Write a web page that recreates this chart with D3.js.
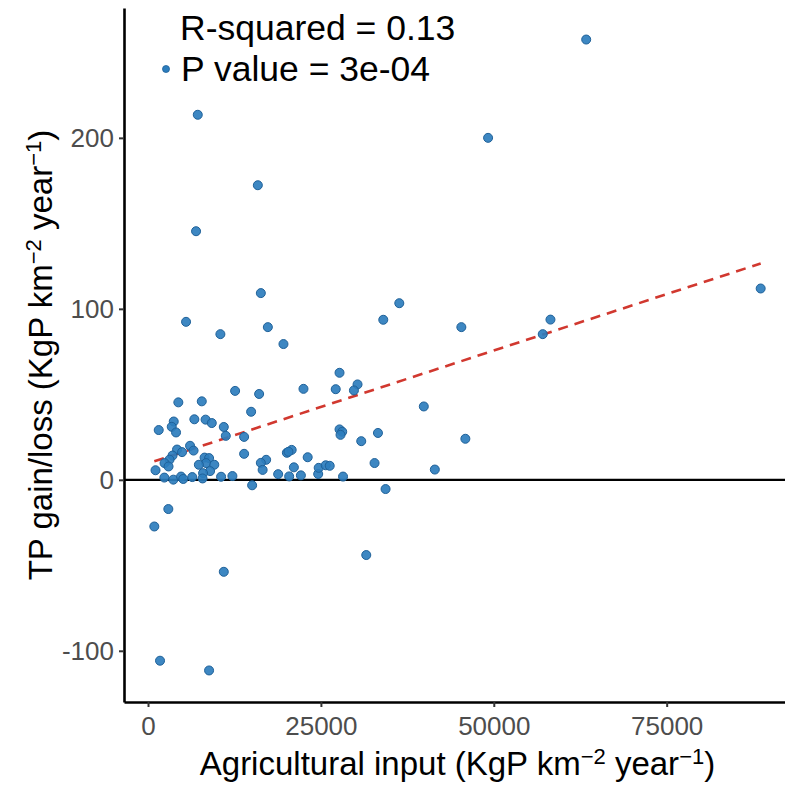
<!DOCTYPE html>
<html>
<head>
<meta charset="utf-8">
<script src="https://cdn.jsdelivr.net/npm/d3@7"></script>
<style>
  body { margin: 0; background: #fff; }
  text { font-family: "Liberation Sans", Arial, sans-serif; }
</style>
</head>
<body>
<div id="chart"></div>
<script>
// agricultural P input (KgP km-2 year-1) and TP gain/loss, one entry per site
const agriInput = [
  7195, 15880, 6948, 16315, 5501, 10466, 17328, 19586, 34019, 36335,
  45310, 63362, 49175, 88593, 58194, 57079, 27693, 27143, 30298, 29777,
  22481, 39881, 16068, 14910, 12594, 4386, 7774, 1549, 3720, 3431,
  4053, 6702, 8324, 9221, 10958, 11248, 13897, 27693, 28083, 27837,
  30834, 33251, 45889, 13897, 20078, 20773, 20310, 23089, 17082, 16315,
  16575, 18819, 20411, 22105, 21092, 24609, 24682, 25695, 26274, 32759,
  41474, 28199, 34352, 15055, 12203, 10567, 6080, 6587, 4198, 4922,
  3547, 3112, 2389, 2968, 1086, 8179, 8830, 8396, 9583, 7354,
  8975, 7962, 2360, 3662, 4777, 5096, 6398, 7889, 1737, 8830,
  2939, 912, 10958, 31558
];
const tpChange = [
  213.5, 172.3, 145.4, 109.2, 92.4, 85.2, 89.3, 79.4, 93.6, 103.3,
  89.3, 257.5, 200, 111.9, 93.7, 85.2, 62.6, 53.0, 55.8, 52.3,
  53.2, 42.9, 50.2, 39.8, 52.0, 45.3, 45.9, 29.1, 34.1, 31.0,
  27.7, 35.4, 35.2, 33.2, 30.9, 25.7, 25.1, 29.5, 28.1, 26.3,
  22.6, 27.4, 24.0, 15.2, 15.8, 17.5, 16.4, 13.2, 11.7, 9.9,
  5.8, 3.3, 2.0, 2.6, 7.3, 3.4, 7.0, 8.5, 8.2, 9.8,
  6.0, 1.9, -5.4, -3.2, 2.2, 1.8, 19.9, 17.1, 17.7, 16.2,
  14.2, 11.8, 9.8, 7.8, 5.6, 13.0, 12.7, 9.8, 8.8, 8.8,
  5.1, 3.9, 1.3, 0.1, 1.9, 0.5, 1.6, 0.8, -105.8, -111.5,
  -17.1, -27.3, -53.8, -44.0
];
const xTicks = [0, 25000, 50000, 75000];
const yTicks = [-100, 0, 100, 200];
// linear fit
const fitIntercept = 9.6;
const fitSlope = 0.00132;
const statsLabels = ["R-squared = 0.13", "P value = 3e-04"];

const width = 785;
const height = 788;
const panel = { left: 124, right: 791, top: 8, bottom: 702 };

const points = agriInput.map((x, i) => ({ x: x, y: tpChange[i] }));

// ggplot style 5% expansion
function expand(ext) {
  const pad = (ext[1] - ext[0]) * 0.05;
  return [ext[0] - pad, ext[1] + pad];
}

const x = d3.scaleLinear()
  .domain(expand(d3.extent(agriInput)))
  .range([panel.left, panel.right]);
const y = d3.scaleLinear()
  .domain(expand(d3.extent(tpChange)))
  .range([panel.bottom, panel.top]);

const svg = d3.select("#chart")
  .append("svg")
  .attr("width", width)
  .attr("height", height);

// zero reference line
svg.append("line")
  .attr("x1", panel.left)
  .attr("x2", panel.right)
  .attr("y1", y(0))
  .attr("y2", y(0))
  .attr("stroke", "#000")
  .attr("stroke-width", 2.2);

// fitted line
const xr = d3.extent(agriInput);
svg.append("line")
  .attr("x1", x(xr[0]))
  .attr("y1", y(fitIntercept + fitSlope * xr[0]))
  .attr("x2", x(xr[1]))
  .attr("y2", y(fitIntercept + fitSlope * xr[1]))
  .attr("stroke", "#d1382f")
  .attr("stroke-width", 2.6)
  .attr("stroke-dasharray", "10,7");

// points
svg.append("g")
  .selectAll("circle")
  .data(points)
  .join("circle")
  .attr("cx", d => x(d.x))
  .attr("cy", d => y(d.y))
  .attr("r", 4.5)
  .attr("fill", "#2c7dbd")
  .attr("fill-opacity", 0.92)
  .attr("stroke", "#1f6199")
  .attr("stroke-width", 1);

// axes
const xAxis = svg.append("g")
  .attr("transform", `translate(0,${panel.bottom})`)
  .call(d3.axisBottom(x).tickValues(xTicks).tickSize(5).tickSizeOuter(0).tickFormat(d => String(d)));
const yAxis = svg.append("g")
  .attr("transform", `translate(${panel.left},0)`)
  .call(d3.axisLeft(y).tickValues(yTicks).tickSize(5).tickSizeOuter(0).tickFormat(d => String(d)));

[xAxis, yAxis].forEach(a => {
  a.select(".domain").attr("stroke", "#000").attr("stroke-width", 2.6);
  a.selectAll(".tick line").attr("stroke", "#333").attr("stroke-width", 2);
  a.selectAll(".tick text")
    .attr("fill", "#4d4d4d")
    .style("font-size", "26px")
    .style("font-family", "'Liberation Sans', Arial, sans-serif");
});
xAxis.selectAll(".tick text").attr("y", 10).attr("dy", "0.9em");
yAxis.selectAll(".tick text").attr("x", -10).attr("dy", "0.35em");

// axis titles with superscripts
function addTitle(sel, lead) {
  sel.append("tspan").text(lead + " (KgP km");
  sel.append("tspan").attr("dy", -11).style("font-size", "22px").text("\u22122");
  sel.append("tspan").attr("dy", 11).text(" year");
  sel.append("tspan").attr("dy", -11).style("font-size", "22px").text("\u22121");
  sel.append("tspan").attr("dy", 11).text(")");
}

const xTitle = svg.append("text")
  .attr("x", (panel.left + panel.right) / 2)
  .attr("y", 775)
  .attr("text-anchor", "middle")
  .style("font-size", "33px")
  .attr("fill", "#000");
addTitle(xTitle, "Agricultural input");

const yTitle = svg.append("text")
  .attr("transform", `translate(52,${(panel.top + panel.bottom) / 2}) rotate(-90)`)
  .attr("text-anchor", "middle")
  .style("font-size", "33px")
  .attr("fill", "#000");
addTitle(yTitle, "TP gain/loss");

// stats legend
svg.append("text")
  .attr("x", 180)
  .attr("y", 40)
  .style("font-size", "35.5px")
  .attr("fill", "#000")
  .text(statsLabels[0]);
svg.append("circle")
  .attr("cx", 166)
  .attr("cy", 69)
  .attr("r", 3.5)
  .attr("fill", "#2c7dbd")
  .attr("stroke", "#1f6199")
  .attr("stroke-width", 0.8);
svg.append("text")
  .attr("x", 181)
  .attr("y", 81)
  .style("font-size", "35.5px")
  .attr("fill", "#000")
  .text(statsLabels[1]);
</script>
</body>
</html>
